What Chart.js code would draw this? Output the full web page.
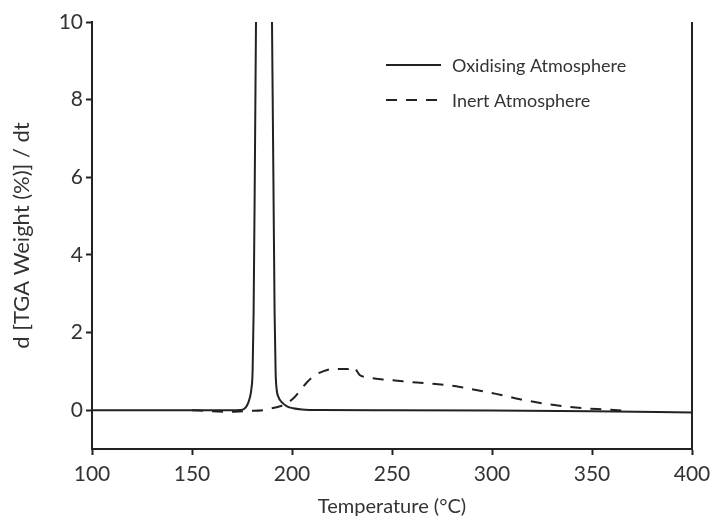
<!DOCTYPE html>
<html>
<head>
<meta charset="utf-8">
<script src="https://cdn.jsdelivr.net/npm/chart.js@4/dist/chart.umd.min.js"></script>
<style>
html,body{margin:0;padding:0;background:#fff;}
canvas{display:block;}
</style>
</head>
<body>
<canvas id="c" width="712" height="521"></canvas>
<script>
// Oxidising atmosphere (solid)
const oxTemp = [100,150,170,174,176,177.5,178.8,179.7,180.3,180.8,181.4,182,182.8,186,189.3,190,190.7,191.3,191.8,192.3,193.3,195,197.5,200.5,205,214,250,300,350,400];
const oxRate = [0,0,0,0.005,0.03,0.12,0.3,0.55,1.0,2.5,6,10,14,20,14,10,6,2.5,1.0,0.55,0.33,0.2,0.1,0.05,0.02,0.005,0,-0.01,-0.03,-0.06];
// Inert atmosphere (dashed)
const inTemp = [150,160,170,178,185.5,190,194,197.5,201,204,207.5,211.5,215.5,220.5,225,228,230.5,234,237,240.5,246,254,262.5,273,284,294,304,314,325,336,346,356,366];
const inRate = [0,-0.03,-0.04,-0.02,0,0.05,0.1,0.18,0.32,0.5,0.72,0.9,1.0,1.06,1.06,1.06,1.12,0.9,0.85,0.82,0.79,0.75,0.71,0.67,0.6,0.5,0.4,0.28,0.18,0.1,0.05,0.02,-0.01];
const xTicks = [100,150,200,250,300,350,400];
const yTicks = [0,2,4,6,8,10];
const seriesLabels = ['Oxidising Atmosphere','Inert Atmosphere'];

const toXY = (xs, ys) => xs.map((x, i) => ({x: x, y: ys[i]}));
const FONT = 'Lato, "Open Sans", sans-serif';
const INK = '#222';
const TXT = '#333';

const legendPlugin = {
  id: 'customLegend',
  afterDraw(chart) {
    const ctx = chart.ctx;
    ctx.save();
    chart.data.datasets.forEach((ds, i) => {
      const y = 65 + i * 35;
      ctx.strokeStyle = ds.borderColor;
      ctx.lineWidth = ds.borderWidth;
      ctx.setLineDash(ds.borderDash || []);
      ctx.beginPath();
      ctx.moveTo(386, y);
      ctx.lineTo(441, y);
      ctx.stroke();
      ctx.setLineDash([]);
      ctx.fillStyle = TXT;
      ctx.font = '18px ' + FONT;
      ctx.textBaseline = 'middle';
      ctx.textAlign = 'left';
      ctx.fillText(ds.label, 452, y + 1);
    });
    // right frame line
    const a = chart.chartArea;
    ctx.strokeStyle = INK;
    ctx.lineWidth = 2;
    ctx.beginPath();
    ctx.moveTo(a.right, a.top);
    ctx.lineTo(a.right, a.bottom + 1);
    ctx.stroke();
    ctx.restore();
  }
};

new Chart(document.getElementById('c'), {
  type: 'line',
  data: {
    datasets: [
      {label: seriesLabels[0], data: toXY(oxTemp, oxRate), borderColor: INK, borderWidth: 2, pointRadius: 0, cubicInterpolationMode: 'monotone', fill: false},
      {label: seriesLabels[1], data: toXY(inTemp, inRate), borderColor: INK, borderWidth: 2, borderDash: [11, 9], pointRadius: 0, cubicInterpolationMode: 'monotone', fill: false}
    ]
  },
  options: {
    responsive: false,
    animation: false,
    layout: {padding: {top: 22, right: 0, left: 0, bottom: 0}},
    plugins: {legend: {display: false}, tooltip: {enabled: false}},
    scales: {
      x: {
        type: 'linear', min: 100, max: 400,
        afterBuildTicks: s => { s.ticks = xTicks.map(v => ({value: v})); },
        afterFit: s => { s.height = 72; s.paddingRight = 20; s.paddingLeft = 0; },
        grid: {display: true, drawOnChartArea: false, drawTicks: true, tickLength: 6, tickWidth: 2, tickColor: INK},
        border: {display: true, color: INK, width: 2},
        ticks: {color: TXT, font: {family: FONT, size: 21}, padding: 7, maxRotation: 0},
        title: {display: true, text: 'Temperature (°C)', color: TXT, font: {family: FONT, size: 20}, padding: {top: 4, bottom: 2}}
      },
      y: {
        type: 'linear', min: -1, max: 10,
        afterBuildTicks: s => { s.ticks = yTicks.map(v => ({value: v})); },
        afterFit: s => { s.width = 92; s.paddingTop = 0; s.paddingBottom = 0; },
        grid: {display: true, drawOnChartArea: false, drawTicks: true, tickLength: 6, tickWidth: 2, tickColor: INK},
        border: {display: true, color: INK, width: 2},
        ticks: {color: TXT, font: {family: FONT, size: 21}, padding: 3},
        title: {display: true, text: 'd [TGA Weight (%)] / dt', color: TXT, font: {family: FONT, size: 22}, padding: {top: 9, bottom: 0}}
      }
    }
  },
  plugins: [legendPlugin]
});
</script>
</body>
</html>
